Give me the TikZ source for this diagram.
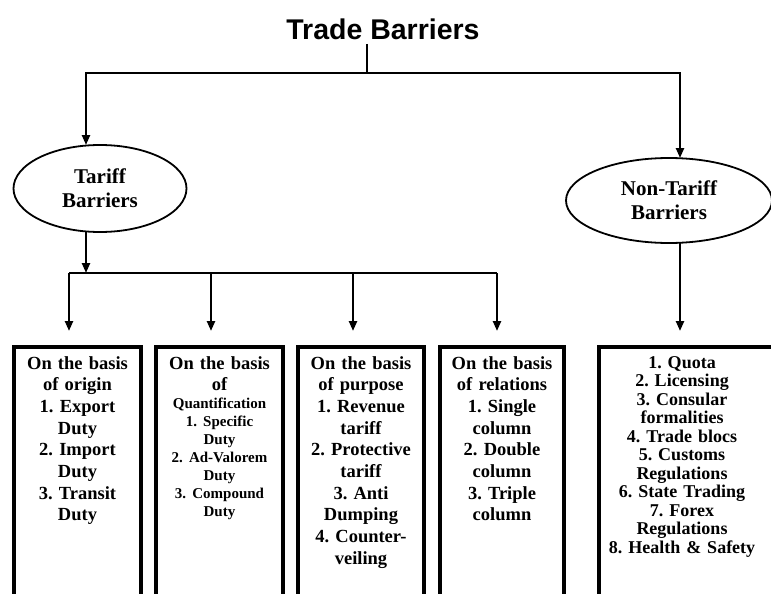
\documentclass[tikz,border=0pt]{standalone}
\usepackage{fontspec}
\setmainfont{Liberation Serif}
\newfontfamily\headfont{Liberation Sans}
\usetikzlibrary{arrows.meta,shapes.geometric}
\frenchspacing
\begin{document}
\begin{tikzpicture}[x=1pt,y=-1pt,
  wire/.style={line width=2.3pt},
  arr/.style={wire,-{Triangle[length=10pt,width=8pt]}},
  oval/.style={ellipse,draw,line width=1.8pt,inner sep=0pt,align=center,
    font=\bfseries\fontsize{21}{24}\selectfont},
  panel/.style={draw,line width=4pt,minimum height=253pt,inner sep=0pt},
  paneltext/.style={anchor=north,inner sep=0pt,text width=200pt,align=center,
    font=\bfseries\fontsize{18.5}{21.7}\selectfont},
]
\useasboundingbox (0,0) rectangle (771,594);
\clip (0,0) rectangle (771,594);
\fill[white] (0,0) rectangle (771,594);

% heading
\node[font=\headfont\bfseries\fontsize{28.5}{31}\selectfont,inner sep=0pt] (title) at (383,29) {Trade Barriers};

% the two families of barriers
\node[oval,minimum width=173pt,minimum height=87pt] (tariff) at (100,188.5) {Tariff\\Barriers};
\node[oval,minimum width=206pt,minimum height=85pt] (nontariff) at (669,200.5) {Non-Tariff\\Barriers};

% detail panels (open at the bottom edge)
\node[panel,minimum width=127pt] (b1) at (77.5,473.5) {};
\node[panel,minimum width=127pt] (b2) at (219.5,473.5) {};
\node[panel,minimum width=126pt] (b3) at (361,473.5) {};
\node[panel,minimum width=124pt] (b4) at (502,473.5) {};
\node[panel,minimum width=191pt] (b5) at (694.5,473.5) {};

\node[paneltext] (t1) at (77.5,356) {On the basis\\of origin\\1. Export\\Duty\\2. Import\\Duty\\3. Transit\\Duty};
\node[paneltext] (t2) at (219.5,356) {On the basis\\of\par
  \fontsize{15}{18}\selectfont Quantification\\1. Specific\\Duty\\2. Ad-Valorem\\Duty\\3. Compound\\Duty\par};
\node[paneltext] (t3) at (361,356) {On the basis\\of purpose\\1. Revenue\\tariff\\2. Protective\\tariff\\3. Anti\\Dumping\\4. Counter-\\veiling};
\node[paneltext] (t4) at (502,356) {On the basis\\of relations\\1. Single\\column\\2. Double\\column\\3. Triple\\column};
\node[paneltext,font=\bfseries\fontsize{18}{18.5}\selectfont] (t5) at (682,356)
  {1. Quota\\2. Licensing\\3. Consular\\formalities\\4. Trade blocs\\5. Customs\\Regulations\\6. State Trading\\7. Forex\\Regulations\\8. Health \& Safety};

% junction points of the connectors
\coordinate (stem) at (367,44);
\coordinate (hub) at (367,73);
\coordinate (tin) at (86,145);
\coordinate (nin) at (680,158);
\coordinate (tout) at (86,231);
\coordinate (bus) at (86,273);
\coordinate (j1) at (69,273);
\coordinate (j2) at (211,273);
\coordinate (j3) at (353,273);
\coordinate (j4) at (497,273);
\coordinate (d1) at (69,331);
\coordinate (d2) at (211,331);
\coordinate (d3) at (353,331);
\coordinate (d4) at (497,331);
\coordinate (nout) at (680,242);
\coordinate (d5) at (680,331);

% connectors
\draw[wire] (stem) -- (hub);
\draw[arr] (hub) -| (tin);
\draw[arr] (hub) -| (nin);
\draw[arr] (tout) -- (bus);
\draw[wire] (j1) -- (j4);
\draw[arr] (j1) -- (d1);
\draw[arr] (j2) -- (d2);
\draw[arr] (j3) -- (d3);
\draw[arr] (j4) -- (d4);
\draw[arr] (nout) -- (d5);
\end{tikzpicture}
\end{document}
